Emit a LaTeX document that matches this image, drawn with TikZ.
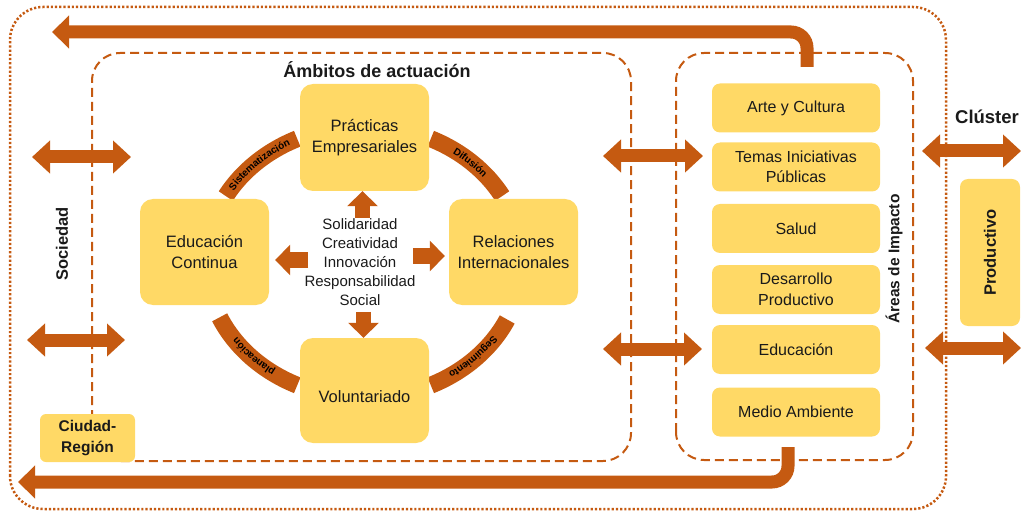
\documentclass[tikz,border=0pt]{standalone}
\usepackage{fontspec}
\setmainfont{Liberation Sans}
\newfontfamily\arcfam[LetterSpace=7]{Liberation Sans}
\usetikzlibrary{arrows.meta,decorations.text,calc}
\definecolor{org}{HTML}{C55A11}
\definecolor{ylw}{HTML}{FFD966}
\definecolor{ink}{HTML}{1A1A1A}
\newcommand\arcfnt{\arcfam\bfseries\fontsize{10}{12}\selectfont}
\begin{document}
\begin{tikzpicture}[x=1pt,y=1pt,
  cbox/.style={fill=ylw, draw=none, rounded corners=13pt, align=center, text=ink,
    font=\fontsize{16.5}{21}\selectfont, inner sep=0pt},
  rbox/.style={fill=ylw, draw=none, rounded corners=8pt, align=center, text=ink,
    font=\fontsize{16}{20.5}\selectfont, inner sep=0pt, minimum width=168pt, minimum height=49pt},
  lbl/.style={text=ink, font=\bfseries\fontsize{16.5}{20}\selectfont, inner sep=0pt},
  bigarrow/.style={draw=org, line width=13pt, -{Triangle[length=17pt,width=32pt]}},
  dblarrow/.style={draw=org, line width=13pt, {Triangle[length=18pt,width=32pt]}-{Triangle[length=18pt,width=32pt]}},
  smallarrow/.style={draw=org, line width=15pt, -{Triangle[length=15pt,width=30pt]}},
  ringarc/.style={draw=org, line width=17pt},
  dashbox/.style={draw=org, line width=2pt, dash pattern=on 9pt off 5pt, rounded corners=28pt},
  arctext/.style={decorate, decoration={text along path, text align=center, raise=-3.5pt, text={|\arcfnt|#1}}}
]
\useasboundingbox (0,0) rectangle (1022,512);

% frames
\draw[org, line width=2.5pt, dash pattern=on 2.2pt off 2pt, rounded corners=33pt] (10,3) rectangle (946,505);
\draw[dashbox] (92,51) rectangle (631,459);
\draw[dashbox] (676,52) rectangle (913,459);

% ring
\coordinate (rc) at (364,250);
\draw[ringarc] ($(rc)+(151:158 and 136)$) arc[start angle=151, end angle=115, x radius=158, y radius=136];
\draw[ringarc] ($(rc)+(65:158 and 136)$) arc[start angle=65, end angle=29, x radius=158, y radius=136];
\draw[ringarc] ($(rc)+(-25:158 and 136)$) arc[start angle=-25, end angle=-65, x radius=158, y radius=136];
\draw[ringarc] ($(rc)+(-115:158 and 136)$) arc[start angle=-115, end angle=-156, x radius=158, y radius=136];
\path[arctext=Sistematización] ($(rc)+(151:158 and 136)$) arc[start angle=151, end angle=115, x radius=158, y radius=136];
\path[arctext=Difusión] ($(rc)+(65:158 and 136)$) arc[start angle=65, end angle=29, x radius=158, y radius=136];
\path[arctext=Seguimiento] ($(rc)+(-25:158 and 136)$) arc[start angle=-25, end angle=-65, x radius=158, y radius=136];
\path[arctext=planeación] ($(rc)+(-115:158 and 136)$) arc[start angle=-115, end angle=-156, x radius=158, y radius=136];

% central boxes
\node[cbox, minimum width=129pt, minimum height=107pt] (prac) at (364.5,374.5) {Prácticas\\Empresariales};
\node[cbox, minimum width=129pt, minimum height=106pt] (educ) at (204.5,260) {Educación\\Continua};
\node[cbox, minimum width=129pt, minimum height=106pt] (rel) at (513.5,260) {Relaciones\\Internacionales};
\node[cbox, minimum width=129pt, minimum height=105pt] (vol) at (364.5,121.5) {};
\node[text=ink, font=\fontsize{16.5}{21}\selectfont, inner sep=0pt] (voltxt) at ([yshift=-6pt]vol.center) {Voluntariado};
\node[text=ink, align=center, font=\fontsize{15}{19}\selectfont, inner sep=0pt] (ctext) at (360,250)
  {Solidaridad\\Creatividad\\Innovación\\Responsabilidad\\Social};

% small arrows
\draw[smallarrow] ([xshift=-2pt,yshift=-27pt]prac.south) -- ([xshift=-2pt]prac.south);
\draw[smallarrow] ([xshift=39pt,yshift=-8pt]educ.east) -- ([xshift=6pt,yshift=-8pt]educ.east);
\draw[smallarrow] ([xshift=-36pt,yshift=-4pt]rel.west) -- ([xshift=-4pt,yshift=-4pt]rel.west);
\draw[smallarrow] ([xshift=-1pt,yshift=26pt]vol.north) -- ([xshift=-1pt]vol.north);

% right boxes
\node[rbox] (arte) at (796,404) {Arte y Cultura};
\node[rbox] (temas) at (796,345) {Temas Iniciativas\\Públicas};
\node[rbox] (salud) at (796,283.5) {Salud};
\node[rbox] (desa) at (796,222.5) {Desarrollo\\Productivo};
\node[rbox] (edu) at (796,162.5) {Educación};
\node[rbox] (medio) at (796,100) {Medio Ambiente};

\node[fill=ylw, draw=none, rounded corners=8pt, minimum width=60pt, minimum height=147pt, inner sep=0pt] (prod) at (990,259.5) {};
\node[lbl, rotate=90] (prodtxt) at (prod.center) {Productivo};
\node[fill=ylw, draw=none, rounded corners=6pt, minimum width=95pt, minimum height=48pt, inner sep=0pt,
  align=center, text=ink, font=\bfseries\fontsize{15.5}{21}\selectfont] (ciudad) at (87.5,74) {Ciudad-\\Región};

% labels
\node[text=ink, font=\bfseries\fontsize{18}{20}\selectfont, inner sep=0pt] (ambitos) at (377,442) {Ámbitos de actuación};
\node[lbl, rotate=90] (soc) at (62,268) {Sociedad};
\node[text=ink, font=\bfseries\fontsize{15.5}{20}\selectfont, inner sep=0pt, rotate=90] (areas) at (894,253) {Áreas de Impacto};
\node[text=ink, font=\bfseries\fontsize{18.5}{20}\selectfont, inner sep=0pt] (cluster) at (987,395) {Clúster};

% big arrows
\coordinate (ts) at (807,445);
\coordinate (te) at (52,480);
\draw[bigarrow, rounded corners=16pt] (ts) |- (te);
\coordinate (bs) at (788,65);
\coordinate (be) at (18,30);
\draw[bigarrow, rounded corners=16pt] (bs) |- (be);

% double arrows
\coordinate (l1a) at (32,355); \coordinate (l1b) at (131,355);
\coordinate (l2a) at (27,172); \coordinate (l2b) at (125,172);
\coordinate (m1a) at (603,356); \coordinate (m1b) at (703,356);
\coordinate (m2a) at (603,163); \coordinate (m2b) at (702,163);
\coordinate (r1a) at (922,361); \coordinate (r1b) at (1021,361);
\coordinate (r2a) at (925,164); \coordinate (r2b) at (1021,164);
\draw[dblarrow] (l1a) -- (l1b);
\draw[dblarrow] (l2a) -- (l2b);
\draw[dblarrow] (m1a) -- (m1b);
\draw[dblarrow] (m2a) -- (m2b);
\draw[dblarrow] (r1a) -- (r1b);
\draw[dblarrow] (r2a) -- (r2b);
\end{tikzpicture}
\end{document}
